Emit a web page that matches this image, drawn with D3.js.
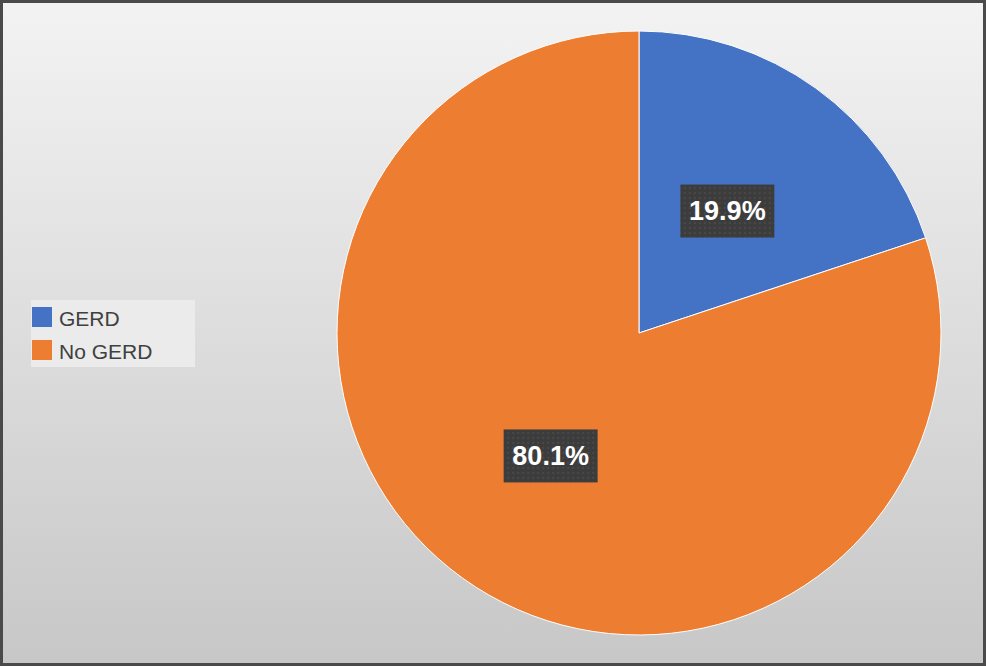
<!DOCTYPE html>
<html>
  <head>
    <meta charset="utf-8"/>
    <style>
    body {
      margin: 0;
      font-family: "Liberation Sans", Arial, sans-serif;
    }
    </style>
  </head>
  <body>
    <script src="https://d3js.org/d3.v7.min.js"></script>
    <script>
    var width = 986, height = 667;

    // data
    var categories = ["GERD", "No GERD"];
    var values = [19.9, 80.1];
    var colors = ["#4472C4", "#ED7D31"];

    var cx = 639, cy = 333, radius = 302;

    var svg = d3.select("body").append("svg")
        .attr("width", width)
        .attr("height", height);

    var defs = svg.append("defs");

    var grad = defs.append("linearGradient")
        .attr("id", "bg")
        .attr("x1", 0).attr("y1", 0)
        .attr("x2", 0).attr("y2", 1);
    grad.append("stop").attr("offset", "0%").attr("stop-color", "#f3f3f3");
    grad.append("stop").attr("offset", "100%").attr("stop-color", "#c7c7c7");

    // dotted fill for the data label boxes
    var pat = defs.append("pattern")
        .attr("id", "dots")
        .attr("width", 5).attr("height", 5)
        .attr("patternUnits", "userSpaceOnUse");
    pat.append("rect").attr("width", 5).attr("height", 5).attr("fill", "#3c3c3c");
    pat.append("circle").attr("cx", 2.5).attr("cy", 2.5).attr("r", 0.8).attr("fill", "#5a5a5a");

    // background + frame
    svg.append("rect")
        .attr("x", 1.5).attr("y", 1.5)
        .attr("width", width - 3).attr("height", height - 4)
        .attr("fill", "url(#bg)")
        .attr("stroke", "#4a4a4a")
        .attr("stroke-width", 3);

    var pie = d3.pie().sort(null).value(function(d){ return d; });
    var arc = d3.arc().innerRadius(0).outerRadius(radius);
    var labelArc = d3.arc().innerRadius(radius * 0.5).outerRadius(radius * 0.5);

    var arcs = pie(values);

    var g = svg.append("g")
        .attr("transform", "translate(" + cx + "," + cy + ")");

    g.selectAll(".slice")
        .data(arcs)
      .enter().append("path")
        .attr("class", "slice")
        .attr("d", arc)
        .attr("fill", function(d, i){ return colors[i]; })
        .attr("stroke", "#ffffff")
        .attr("stroke-width", 1);

    var labels = g.selectAll(".label")
        .data(arcs)
      .enter().append("g")
        .attr("class", "label")
        .attr("transform", function(d){ return "translate(" + labelArc.centroid(d) + ")"; });

    labels.append("rect")
        .attr("x", -47).attr("y", -26)
        .attr("width", 94).attr("height", 53)
        .attr("fill", "url(#dots)");

    labels.append("text")
        .attr("text-anchor", "middle")
        .attr("dy", "0.36em")
        .attr("fill", "#ffffff")
        .style("font-size", "27px")
        .style("font-weight", "bold")
        .text(function(d){ return d3.format(".1f")(d.data) + "%"; });

    // legend
    var legend = svg.append("g");

    legend.append("rect")
        .attr("x", 31).attr("y", 300)
        .attr("width", 164).attr("height", 67)
        .attr("fill", "#ebebeb");

    var items = legend.selectAll(".item")
        .data(categories)
      .enter().append("g")
        .attr("class", "item")
        .attr("transform", function(d, i){ return "translate(32," + (307 + i * 33) + ")"; });

    items.append("rect")
        .attr("width", 20).attr("height", 20)
        .attr("fill", function(d, i){ return colors[i]; });

    items.append("text")
        .attr("x", 27).attr("y", 19)
        .attr("fill", "#404040")
        .style("font-size", "21px")
        .text(function(d){ return d; });

    </script>
  </body>
</html>
